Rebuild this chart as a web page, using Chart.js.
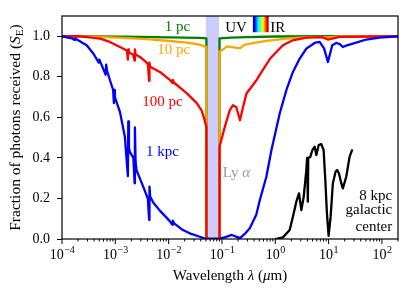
<!DOCTYPE html>
<html>
<head>
<meta charset="utf-8">
<script src="https://cdn.jsdelivr.net/npm/chart.js@4.4.1/dist/chart.umd.min.js"></script>
<style>
  body { margin: 0; background: #fff; }
  #wrap { width: 415px; height: 295px; }
</style>
</head>
<body>
<div id="wrap"><canvas id="chart" width="415" height="295"></canvas></div>
<script>
// wavelength in micron, fraction of photons received
const lam1pc  = [1e-4, 5e-4, 3e-3, 0.01, 0.038, 0.0510, 0.0511, 0.0899, 0.0900, 0.15, 0.3, 1, 10, 200];
const frac1pc = [1.0, 0.999, 0.997, 0.995, 0.992, 0.99, 0, 0, 0.99, 0.993, 0.996, 0.999, 1.0, 1.0];

const lam10pc  = [1e-4, 5e-4, 2.1e-3, 4.5e-3, 9.2e-3, 0.022, 0.038, 0.0510, 0.0511, 0.0899, 0.0900,
                  0.105, 0.125, 0.2175, 0.26, 0.4, 0.68, 1.6, 2.9, 6.8, 9.7, 16, 200];
const frac10pc = [1.0, 0.997, 0.99, 0.985, 0.978, 0.969, 0.959, 0.947, 0, 0, 0.925,
                  0.935, 0.95, 0.94, 0.957, 0.967, 0.977, 0.988, 0.993, 0.997, 0.995, 0.999, 1.0];

const lam100pc  = [1e-4, 2.2e-4, 5.2e-4, 7.9e-4, 1.22e-3, 1.65e-3, 1.72e-3, 1.75e-3, 1.8e-3, 2.14e-3,
                   2.3e-3, 2.33e-3, 2.4e-3, 2.9e-3, 4.07e-3, 4.3e-3, 4.37e-3, 4.5e-3, 6.84e-3, 0.0105,
                   0.0118, 0.012, 0.0125, 0.022, 0.0337, 0.0413, 0.0457, 0.0510, 0.0511, 0.0899,
                   0.0900, 0.113, 0.140, 0.161, 0.186, 0.2175, 0.248, 0.288, 0.443, 0.51,
                   0.8, 1.39, 2.12, 3.82, 7.5, 9.7, 16, 200];
const frac100pc = [1.0, 1.0, 0.988, 0.972, 0.947, 0.93, 0.885, 0.935, 0.92, 0.91,
                   0.88, 0.935, 0.91, 0.898, 0.865, 0.78, 0.87, 0.85, 0.824, 0.785,
                   0.77, 0.785, 0.772, 0.718, 0.67, 0.635, 0.60, 0.553, 0, 0,
                   0.455, 0.553, 0.635, 0.66, 0.65, 0.586, 0.65, 0.718, 0.783, 0.81,
                   0.89, 0.956, 0.98, 0.993, 0.996, 0.984, 0.997, 1.0];

const lam1kpc  = [1e-4, 1.24e-4, 1.54e-4, 1.72e-4, 1.75e-4, 1.9e-4, 2.9e-4, 3.86e-4, 4.9e-4, 5.0e-4,
                  5.2e-4, 6.6e-4, 6.74e-4, 7.0e-4, 7.93e-4, 9.1e-4, 9.4e-4, 9.51e-4, 9.8e-4, 1.22e-3,
                  1.51e-3, 1.72e-3, 1.75e-3, 1.8e-3, 1.87e-3, 2.18e-3, 2.3e-3, 2.33e-3, 2.4e-3, 2.5e-3,
                  3.33e-3, 4.07e-3, 4.3e-3, 4.37e-3, 4.5e-3, 5.13e-3, 6.84e-3, 0.0105, 0.0118, 0.012,
                  0.0125, 0.0185, 0.0249, 0.0384, 0.0510, 0.0900, 0.099, 0.112, 0.153, 0.2175,
                  0.267, 0.332, 0.44, 0.51, 0.68, 0.845, 1.21, 1.61, 2.14, 2.87,
                  3.82, 5.47, 6.78, 8.2, 9.7, 11.7, 13.9, 16, 18.5, 22,
                  28.5, 50.8, 90, 200];
const frac1kpc = [1.0, 0.995, 0.99, 0.982, 0.99, 0.984, 0.956, 0.915, 0.87, 0.885,
                  0.875, 0.81, 0.86, 0.83, 0.783, 0.735, 0.67, 0.735, 0.70, 0.627,
                  0.504, 0.31, 0.58, 0.45, 0.43, 0.40, 0.275, 0.55, 0.38, 0.34,
                  0.258, 0.20, 0.094, 0.258, 0.21, 0.18, 0.14, 0.088, 0.07, 0.09,
                  0.078, 0.044, 0.028, 0.011, 0.0, 0.0, 0.005, 0.008, 0.02, 0.004,
                  0.025, 0.053, 0.12, 0.19, 0.307, 0.438, 0.619, 0.734, 0.824, 0.89,
                  0.939, 0.967, 0.972, 0.94, 0.873, 0.956, 0.967, 0.962, 0.947, 0.955,
                  0.964, 0.984, 0.993, 1.0];

const lam8kpc  = [1.0, 1.39, 1.86, 2.14, 2.48, 2.78, 3.08, 3.41, 3.82, 3.95,
                  4.05, 4.1, 4.15, 4.54, 4.95, 5.47, 5.89, 6.5, 7.3, 8.06,
                  8.67, 9.29, 10.0, 10.9, 12.0, 13.5, 14.5, 15.6, 17.3, 18.5,
                  21.4, 24.7, 27.8];
const frac8kpc = [0, 0.008, 0.044, 0.11, 0.184, 0.225, 0.143, 0.208, 0.34, 0.40,
                  0.37, 0.184, 0.40, 0.405, 0.438, 0.455, 0.414, 0.463, 0.468, 0.438,
                  0.29, 0.127, 0.015, 0.11, 0.274, 0.332, 0.34, 0.324, 0.274, 0.25,
                  0.307, 0.405, 0.442];

const xTicks = [1e-4, 1e-3, 1e-2, 1e-1, 1, 10, 100];
const yTicks = [0, 0.2, 0.4, 0.6, 0.8, 1.0];
const lyaBand = [0.0497, 0.0880];
const visibleBand = [0.38, 0.75];

const FONT = '"Liberation Serif", "DejaVu Serif", serif';
const fontStr = (size, it) => (it ? 'italic ' : '') + size + 'px ' + FONT;

function pts(xs, ys) {
    if (xs.length !== ys.length) console.warn('length mismatch', xs.length, ys.length);
    return xs.map((v, i) => ({ x: v, y: ys[i] }));
}

// draw a run of text pieces (plain / italic / subscript) on one baseline
function drawParts(ctx, parts, x, y, size, align) {
    ctx.textAlign = 'left';
    ctx.textBaseline = 'alphabetic';
    let total = 0;
    const ws = parts.map(p => {
        ctx.font = fontStr(p.sub ? size * 0.72 : size, p.it);
        const w = ctx.measureText(p.t).width;
        total += w;
        return w;
    });
    let cx = align === 'center' ? x - total / 2 : align === 'right' ? x - total : x;
    parts.forEach((p, i) => {
        ctx.font = fontStr(p.sub ? size * 0.72 : size, p.it);
        ctx.fillText(p.t, cx, p.sub ? y + size * 0.2 : y);
        cx += ws[i];
    });
}

const jetStops = [[0, '#000080'], [0.11, '#0000ff'], [0.35, '#00ffff'], [0.5, '#7dff7a'],
                  [0.64, '#ffff00'], [0.89, '#ff0000'], [1, '#800000']];

const decor = {
    id: 'decor',
    beforeDatasetsDraw(chart) {
        const { ctx, chartArea: a, scales: { x } } = chart;
        const x0 = x.getPixelForValue(lyaBand[0]);
        const x1 = x.getPixelForValue(lyaBand[1]);
        ctx.save();
        ctx.fillStyle = 'rgba(0,0,255,0.2)';
        ctx.fillRect(x0, a.top, x1 - x0, a.bottom - a.top);
        ctx.restore();
    },
    afterDatasetsDraw(chart) {
        const { ctx, chartArea: a, scales: { x, y } } = chart;
        ctx.save();

        // visible-light strip
        const c0 = x.getPixelForValue(visibleBand[0]);
        const c1 = x.getPixelForValue(visibleBand[1]);
        const cb = y.getPixelForValue(1.02);
        const g = ctx.createLinearGradient(c0, 0, c1, 0);
        jetStops.forEach(s => g.addColorStop(s[0], s[1]));
        ctx.fillStyle = g;
        ctx.fillRect(c0, a.top, c1 - c0, cb - a.top);
        ctx.fillStyle = '#000';
        drawParts(ctx, [{ t: 'UV' }], c0 - 6, y.getPixelForValue(1.022), 15, 'right');
        drawParts(ctx, [{ t: 'IR' }], c1 + 1.5, y.getPixelForValue(1.022), 15, 'left');

        // frame
        ctx.strokeStyle = '#000';
        ctx.lineWidth = 1.2;
        ctx.strokeRect(a.left, a.top, a.right - a.left, a.bottom - a.top);

        // x ticks, major and minor
        ctx.lineWidth = 1;
        for (let n = -4; n <= 2; n++) {
            for (let k = 1; k <= 9; k++) {
                const v = k * Math.pow(10, n);
                if (v < x.min || v > x.max) continue;
                const px = x.getPixelForValue(v);
                ctx.beginPath();
                ctx.moveTo(px, a.bottom);
                ctx.lineTo(px, a.bottom + (k === 1 ? 5 : 2.5));
                ctx.stroke();
            }
        }
        // x tick labels 10^n
        xTicks.forEach(v => {
            const e = Math.round(Math.log10(v));
            const es = (e < 0 ? '\u2212' : '') + Math.abs(e);
            ctx.font = fontStr(14);
            const wb = ctx.measureText('10').width;
            ctx.font = fontStr(10);
            const we = ctx.measureText(es).width;
            const left = x.getPixelForValue(v) - (wb + we) / 2;
            ctx.textAlign = 'left';
            ctx.textBaseline = 'alphabetic';
            ctx.font = fontStr(14);
            ctx.fillText('10', left, 259);
            ctx.font = fontStr(10);
            ctx.fillText(es, left + wb + 0.5, 253);
        });

        // axis titles
        drawParts(ctx, [{ t: 'Wavelength ' }, { t: '\u03bb', it: true }, { t: ' (' }, { t: '\u03bc', it: true }, { t: 'm)' }],
            (a.left + a.right) / 2, 280, 15, 'center');
        ctx.save();
        ctx.translate(20, (a.top + a.bottom) / 2);
        ctx.rotate(-Math.PI / 2);
        drawParts(ctx, [{ t: 'Fraction of photons received (' }, { t: 'S', it: true }, { t: 'E', sub: true }, { t: ')' }],
            0, 0, 15.5, 'center');
        ctx.restore();

        // curve labels
        const notes = [
            { t: '1 pc', c: 'green', lx: 0.01455, ly: 1.028, al: 'center' },
            { t: '10 pc', c: 'orange', lx: 0.0125, ly: 0.911, al: 'center' },
            { t: '100 pc', c: 'red', lx: 0.00762, ly: 0.658, al: 'center' },
            { t: '1 kpc', c: 'blue', lx: 0.00762, ly: 0.409, al: 'center' },
            { t: '8 kpc', c: '#000', lx: 156, ly: 0.192, al: 'right' },
            { t: 'galactic', c: '#000', lx: 156, ly: 0.123, al: 'right' },
            { t: 'center', c: '#000', lx: 156, ly: 0.037, al: 'right' }
        ];
        notes.forEach(n => {
            ctx.fillStyle = n.c;
            drawParts(ctx, [{ t: n.t }], x.getPixelForValue(n.lx), y.getPixelForValue(n.ly), 15, n.al);
        });
        ctx.fillStyle = '#999';
        drawParts(ctx, [{ t: 'Ly ' }, { t: '\u03b1', it: true }], x.getPixelForValue(0.187), y.getPixelForValue(0.308), 15, 'center');

        ctx.restore();
    }
};

const line = (label, xs, ys, color, order) => ({
    label: label,
    data: pts(xs, ys),
    showLine: true,
    borderColor: color,
    backgroundColor: color,
    borderWidth: 2.3,
    pointRadius: 0,
    tension: 0,
    borderJoinStyle: 'round',
    order: order
});

new Chart(document.getElementById('chart').getContext('2d'), {
    type: 'scatter',
    data: {
        datasets: [
            line('1 pc', lam1pc, frac1pc, 'green', 5),
            line('10 pc', lam10pc, frac10pc, 'orange', 4),
            line('100 pc', lam100pc, frac100pc, 'red', 3),
            line('1 kpc', lam1kpc, frac1kpc, 'blue', 2),
            line('8 kpc galactic center', lam8kpc, frac8kpc, 'black', 1)
        ]
    },
    options: {
        responsive: false,
        animation: false,
        devicePixelRatio: 1,
        layout: { padding: { top: 16, right: 17, left: 0, bottom: 0 } },
        plugins: { legend: { display: false }, tooltip: { enabled: false } },
        scales: {
            x: {
                type: 'logarithmic',
                min: 1e-4,
                max: 200,
                border: { display: false },
                grid: { display: false },
                ticks: { display: false },
                afterBuildTicks: s => { s.ticks = xTicks.map(v => ({ value: v })); },
                afterFit: s => { s.height = 56; }
            },
            y: {
                min: 0,
                max: 1.1,
                border: { display: false },
                grid: { drawOnChartArea: false, drawTicks: true, tickLength: 5, tickColor: '#000', tickWidth: 1 },
                ticks: {
                    color: '#000',
                    padding: 7,
                    font: { family: FONT, size: 14 },
                    callback: v => v.toFixed(1)
                },
                afterBuildTicks: s => { s.ticks = yTicks.map(v => ({ value: v })); },
                afterFit: s => { s.width = 62; }
            }
        }
    },
    plugins: [decor]
});
</script>
</body>
</html>
